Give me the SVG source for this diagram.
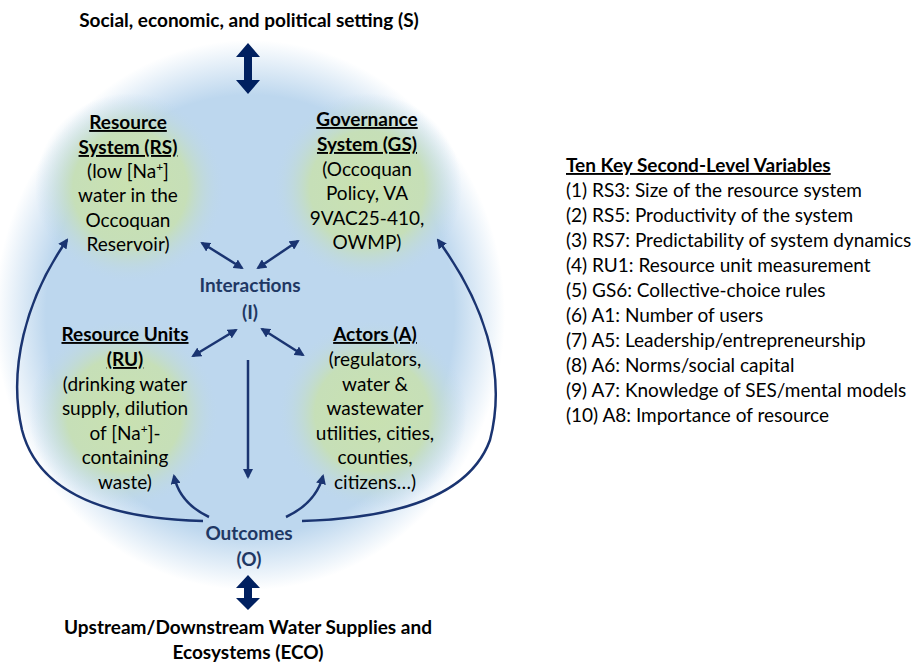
<svg xmlns="http://www.w3.org/2000/svg" width="911" height="664" viewBox="0 0 911 664">
<defs>
<radialGradient id="bg" cx="0.5" cy="0.5" r="0.5">
<stop offset="0" stop-color="#bdd7ee"/>
<stop offset="0.8" stop-color="#bdd7ee"/>
<stop offset="1" stop-color="#bdd7ee" stop-opacity="0"/>
</radialGradient>
<radialGradient id="gr" cx="0.5" cy="0.5" r="0.5">
<stop offset="0" stop-color="#c9e1b0"/>
<stop offset="0.6" stop-color="#c6dfb8"/>
<stop offset="1" stop-color="#bdd7ee" stop-opacity="0"/>
</radialGradient>
<marker id="ah" viewBox="0 0 10 10" refX="8" refY="5" markerWidth="4" markerHeight="4" orient="auto-start-reverse" markerUnits="strokeWidth">
<path d="M0,0 L10,5 L0,10 Z" fill="#1a3471"/>
</marker>
</defs>
<style>
text{font-family:Lato,"Open Sans","Liberation Sans",sans-serif;text-anchor:middle;fill:#000}
.n{font-size:19px}
.b{font-weight:bold}
.u{text-decoration:underline}
.i{fill:#1f3864;font-weight:bold;font-size:19px}
.l{font-size:19px;text-anchor:start}
.c{fill:none;stroke:#1a3471;stroke-width:2.5}
.big{fill:#002060}
</style>
<rect width="911" height="664" fill="#fff"/>
<ellipse cx="250" cy="315" rx="255" ry="275" fill="url(#bg)"/>
<circle cx="130" cy="188" r="95" fill="url(#gr)"/>
<circle cx="367" cy="188" r="95" fill="url(#gr)"/>
<circle cx="124" cy="414" r="95" fill="url(#gr)"/>
<circle cx="372" cy="414" r="95" fill="url(#gr)"/>
<g id="setting">
<text class="n b" x="249" y="27">Social, economic, and political setting (S)</text>
</g>
<g id="eco">
<text class="n b" x="248" y="634">Upstream/Downstream Water Supplies and</text>
<text class="n b" x="248" y="659">Ecosystems (ECO)</text>
</g>
<g id="rs">
<text class="n b u" x="128" y="129">Resource</text>
<text class="n b u" x="128" y="154">System (RS)</text>
<text class="n" x="128" y="178">(low [Na<tspan font-size="12" dy="-7">+</tspan><tspan dy="7">]</tspan></text>
<text class="n" x="128" y="202">water in the</text>
<text class="n" x="128" y="227">Occoquan</text>
<text class="n" x="128" y="251">Reservoir)</text>
</g>
<g id="gs">
<text class="n b u" x="367" y="126">Governance</text>
<text class="n b u" x="367" y="151">System (GS)</text>
<text class="n" x="367" y="176">(Occoquan</text>
<text class="n" x="367" y="200">Policy, VA</text>
<text class="n" x="367" y="225">9VAC25-410,</text>
<text class="n" x="367" y="249">OWMP)</text>
</g>
<g id="interactions">
<text class="i" x="250" y="292">Interactions</text>
<text class="i" x="250" y="319">(I)</text>
</g>
<g id="ru">
<text class="n b u" x="125" y="341">Resource Units</text>
<text class="n b u" x="125" y="366">(RU)</text>
<text class="n" x="125" y="391">(drinking water</text>
<text class="n" x="125" y="415">supply, dilution</text>
<text class="n" x="125" y="440">of [Na<tspan font-size="12" dy="-7">+</tspan><tspan dy="7">]-</tspan></text>
<text class="n" x="125" y="464">containing</text>
<text class="n" x="125" y="489">waste)</text>
</g>
<g id="actors">
<text class="n b u" x="375" y="341">Actors (A)</text>
<text class="n" x="375" y="366">(regulators,</text>
<text class="n" x="375" y="391">water &amp;</text>
<text class="n" x="375" y="415">wastewater</text>
<text class="n" x="375" y="440">utilities, cities,</text>
<text class="n" x="375" y="464">counties,</text>
<text class="n" x="375" y="489">citizens…)</text>
</g>
<g id="outcomes">
<text class="i" x="249" y="540">Outcomes</text>
<text class="i" x="249" y="566">(O)</text>
</g>
<g id="variables">
<text class="l b u" x="566" y="172">Ten Key Second-Level Variables</text>
<text class="l" x="566" y="197">(1) RS3: Size of the resource system</text>
<text class="l" x="566" y="222">(2) RS5: Productivity of the system</text>
<text class="l" x="566" y="247">(3) RS7: Predictability of system dynamics</text>
<text class="l" x="566" y="272">(4) RU1: Resource unit measurement</text>
<text class="l" x="566" y="297">(5) GS6: Collective-choice rules</text>
<text class="l" x="566" y="322">(6) A1: Number of users</text>
<text class="l" x="566" y="347">(7) A5: Leadership/entrepreneurship</text>
<text class="l" x="566" y="372">(8) A6: Norms/social capital</text>
<text class="l" x="566" y="397">(9) A7: Knowledge of SES/mental models</text>
<text class="l" x="566" y="422">(10) A8: Importance of resource</text>
</g>
<g id="connectors">
<polygon class="big" points="248,43 236,57 244,57 244,80 236,80 248,94 260,80 252,80 252,57 260,57"/>
<polygon class="big" points="248,575 236,588 244,588 244,598 236,598 248,610 260,598 252,598 252,588 260,588"/>
<line class="c" x1="202" y1="243" x2="242" y2="268" marker-start="url(#ah)" marker-end="url(#ah)"/>
<line class="c" x1="258" y1="268" x2="298" y2="241" marker-start="url(#ah)" marker-end="url(#ah)"/>
<line class="c" x1="193" y1="356" x2="236" y2="330" marker-start="url(#ah)" marker-end="url(#ah)"/>
<line class="c" x1="262" y1="329" x2="303" y2="355" marker-start="url(#ah)" marker-end="url(#ah)"/>
<line class="c" x1="248" y1="360" x2="248" y2="477" marker-end="url(#ah)"/>
<path class="c" d="M209,517 C190,508 178,495 174,476" marker-end="url(#ah)"/>
<path class="c" d="M286,517 C305,508 318,495 323,476" marker-end="url(#ah)"/>
<path class="c" d="M203,521 C120,519 40,500 22,430 C8,370 25,300 67,240" marker-end="url(#ah)"/>
<path class="c" d="M302,521 C400,518 470,495 490,440 C508,370 482,300 438,240" marker-end="url(#ah)"/>
</g>
</svg>
